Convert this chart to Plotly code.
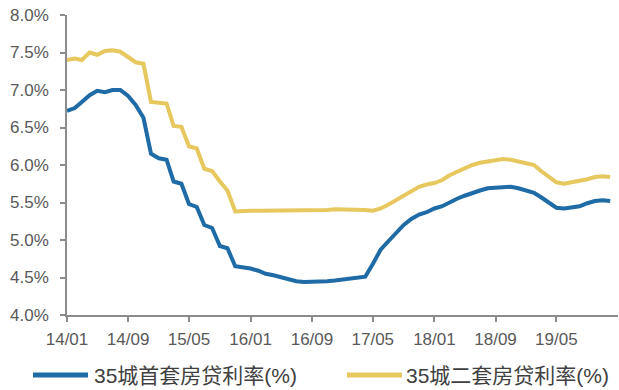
import pandas as pd
import plotly.graph_objects as go

# Monthly mortgage rates in 35 cities, Jan 2014 - Dec 2019 (%)
months = pd.date_range("2014-01-01", periods=72, freq="MS")

first_home = [
    6.72, 6.76, 6.84, 6.93, 6.99, 6.97, 7.00, 7.00, 6.92, 6.80,
    6.63, 6.15, 6.09, 6.07, 5.78, 5.75, 5.48, 5.44, 5.20, 5.16,
    4.92, 4.89, 4.65, 4.64, 4.62, 4.59, 4.55, 4.53, 4.50, 4.48,
    4.45, 4.44, 4.44, 4.44, 4.45, 4.46, 4.47, 4.48, 4.49, 4.51,
    4.68, 4.87, 4.98, 5.09, 5.20, 5.28, 5.34, 5.37, 5.42, 5.45,
    5.50, 5.55, 5.59, 5.63, 5.66, 5.69, 5.70, 5.71, 5.71, 5.69,
    5.66, 5.63, 5.57, 5.50, 5.43, 5.42, 5.43, 5.45, 5.49, 5.52,
    5.53, 5.52,
]

second_home = [
    7.40, 7.42, 7.40, 7.50, 7.47, 7.52, 7.53, 7.51, 7.44, 7.37,
    7.35, 6.84, 6.83, 6.82, 6.52, 6.51, 6.25, 6.22, 5.95, 5.92,
    5.78, 5.66, 5.38, 5.39, 5.39, 5.39, 5.39, 5.39, 5.39, 5.39,
    5.39, 5.40, 5.40, 5.40, 5.40, 5.41, 5.41, 5.41, 5.41, 5.40,
    5.39, 5.42, 5.47, 5.53, 5.60, 5.66, 5.71, 5.74, 5.76, 5.80,
    5.86, 5.91, 5.96, 6.00, 6.03, 6.05, 6.07, 6.08, 6.07, 6.05,
    6.03, 6.00, 5.92, 5.84, 5.77, 5.75, 5.77, 5.78, 5.81, 5.84,
    5.85, 5.84,
]

series_names = ["35城首套房贷利率(%)", "35城二套房贷利率(%)"]
series_colors = ["#1E6BA6", "#E6C85F"]

x_tick_dates = ["2014-01-01", "2014-09-01", "2015-05-01", "2016-01-01", "2016-09-01",
                "2017-05-01", "2018-01-01", "2018-09-01", "2019-05-01"]
x_tick_text = ["14/01", "14/09", "15/05", "16/01", "16/09", "17/05", "18/01", "18/09", "19/05"]
y_tick_vals = [4.0, 4.5, 5.0, 5.5, 6.0, 6.5, 7.0, 7.5, 8.0]
y_tick_text = [f"{v:.1f}%" for v in y_tick_vals]

W, H = 619, 390
M_L, M_R, M_T, M_B = 67, 1, 15, 75
plot_w = W - M_L - M_R
plot_h = H - M_T - M_B


def px_to_paper_x(px):
    return (px - M_L) / plot_w


def px_to_paper_y(py):
    return (H - M_B - py) / plot_h


fig = go.Figure()
for name, color, vals in zip(series_names, series_colors, [first_home, second_home]):
    fig.add_trace(go.Scatter(
        x=months, y=vals, name=name, mode="lines",
        line=dict(color=color, width=4),
        showlegend=False,
    ))

# Legend drawn below the plot: a short line sample followed by the series name
legend_font = dict(family="Liberation Sans, Noto Sans CJK SC, sans-serif", size=21, color="#404040")
legend_y = px_to_paper_y(375)
legend_items = [(33, 88, 92), (347, 402, 404)]
for (x0, x1, tx), name, color in zip(legend_items, series_names, series_colors):
    fig.add_shape(
        type="line", xref="paper", yref="paper",
        x0=px_to_paper_x(x0), x1=px_to_paper_x(x1), y0=legend_y, y1=legend_y,
        line=dict(color=color, width=5),
    )
    fig.add_annotation(
        xref="paper", yref="paper", x=px_to_paper_x(tx), y=legend_y,
        xanchor="left", yanchor="middle", showarrow=False,
        text=name, font=legend_font,
    )

axis_color = "#8C8C8C"
tick_font = dict(family="Liberation Sans, Arial, sans-serif", size=17, color="#595959")

fig.update_layout(
    width=W, height=H,
    margin=dict(l=M_L, r=M_R, t=M_T, b=M_B, autoexpand=False),
    paper_bgcolor="white", plot_bgcolor="white",
    showlegend=False,
    xaxis=dict(
        range=["2014-01-01", "2020-01-01"],
        tickvals=x_tick_dates, ticktext=x_tick_text,
        showgrid=False, zeroline=False,
        showline=True, linecolor=axis_color, linewidth=1.5,
        ticks="outside", ticklen=5, tickcolor=axis_color, tickwidth=1.5,
        tickfont=tick_font, ticklabelstandoff=3,
    ),
    yaxis=dict(
        range=[4.0, 8.0],
        tickvals=y_tick_vals, ticktext=y_tick_text,
        showgrid=False, zeroline=False,
        showline=True, linecolor=axis_color, linewidth=1.5,
        ticks="outside", ticklen=5, tickcolor=axis_color, tickwidth=1.5,
        tickfont=tick_font, ticklabelstandoff=8,
    ),
)

fig.write_html("out.html")
